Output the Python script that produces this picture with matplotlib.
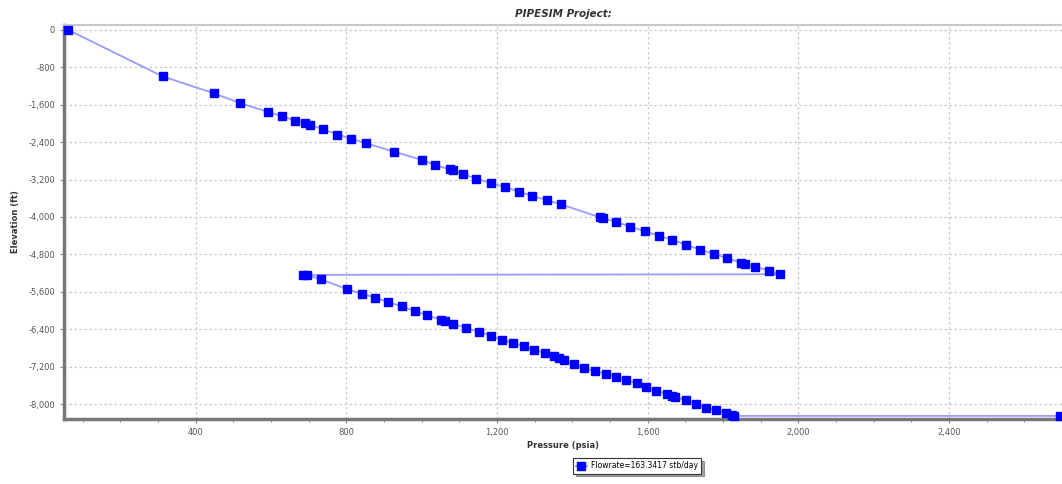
import matplotlib
matplotlib.use('Agg')
import matplotlib.pyplot as plt
from matplotlib.ticker import MultipleLocator, FuncFormatter

# pressure (psia) vs elevation (ft), in drawing order
pressure = [60, 312, 449, 518, 592, 629, 663, 689, 702, 738, 776, 813, 852, 925,
            1001, 1035, 1074, 1083, 1110, 1145, 1183, 1222, 1259, 1294, 1333, 1370,
            1472, 1480, 1517, 1554, 1592, 1629, 1665, 1702, 1738, 1776, 1810, 1848,
            1859, 1884, 1923, 1952,
            684, 694, 732, 802, 840, 877, 910, 947, 981, 1015, 1050, 1061, 1084,
            1118, 1152, 1183, 1212, 1241, 1271, 1298, 1326, 1350, 1364, 1377, 1405,
            1430, 1459, 1488, 1516, 1543, 1572, 1596, 1623, 1651, 1664, 1673, 1702,
            1727, 1755, 1780, 1807, 1824, 1830, 2694]
elevation = [0, -998, -1362, -1569, -1756, -1848, -1940, -1998, -2034, -2126, -2239,
             -2325, -2426, -2603, -2783, -2890, -2982, -3004, -3083, -3182, -3276,
             -3368, -3460, -3554, -3640, -3732, -4004, -4017, -4111, -4209, -4303,
             -4402, -4488, -4595, -4695, -4787, -4881, -4974, -5010, -5059, -5151,
             -5224,
             -5237, -5237, -5331, -5545, -5637, -5723, -5815, -5909, -6008, -6102,
             -6194, -6230, -6280, -6372, -6451, -6537, -6622, -6686, -6766, -6836,
             -6907, -6980, -7014, -7057, -7142, -7221, -7292, -7344, -7414, -7485,
             -7549, -7635, -7708, -7778, -7815, -7843, -7913, -7986, -8072, -8127,
             -8179, -8234, -8249, -8249]
series_label = 'Flowrate=163.3417 stb/day'

fig = plt.figure(figsize=(10.62, 4.84), dpi=100, facecolor='white')
ax = fig.add_axes([64 / 1062, 1 - 419 / 484, 1 - 64 / 1062, (419 - 25) / 484])

ax.plot(pressure, elevation, color='#9a9aff', linewidth=1.3, marker='s',
        markersize=5.2, markerfacecolor='#0000ff', markeredgecolor='#0000ff',
        label=series_label, zorder=3, clip_on=False)

ax.set_xlim(50, 2700)
ax.set_ylim(-8315, 100)
ax.xaxis.set_major_locator(MultipleLocator(400))
ax.xaxis.set_minor_locator(MultipleLocator(100))
ax.yaxis.set_major_locator(MultipleLocator(800))
fmt = FuncFormatter(lambda v, pos: f'{v:,.0f}')
ax.xaxis.set_major_formatter(fmt)
ax.yaxis.set_major_formatter(fmt)
ax.tick_params(axis='both', which='major', labelsize=6, labelcolor='#555555',
               color='#888888', length=3, width=0.8)
ax.tick_params(axis='x', which='minor', color='#888888', length=2, width=0.8)

ax.grid(True, which='major', color='#c8c8c8', linestyle=(0, (2, 2)), linewidth=0.9)
ax.set_axisbelow(True)

for side in ['left', 'bottom']:
    ax.spines[side].set_color('#777777')
    ax.spines[side].set_linewidth(2.5)
ax.spines['top'].set_color('#c8c8c8')
ax.spines['top'].set_linewidth(1.5)
ax.spines['right'].set_visible(False)

ax.set_title('PIPESIM Project:', fontsize=7.5, fontweight='bold', style='italic',
             color='#333333', pad=6)
ax.set_xlabel('Pressure (psia)', fontsize=6, fontweight='bold', color='#333333',
              labelpad=3)
ax.set_ylabel('Elevation (ft)', fontsize=6, fontweight='bold', color='#333333',
              labelpad=6)

leg = ax.legend(loc='center', bbox_to_anchor=(637 / 1062, 1 - 466 / 484),
                bbox_transform=fig.transFigure, fontsize=5.5, fancybox=False,
                shadow=True, edgecolor='#333333', framealpha=1, handlelength=1.4,
                borderpad=0.4, handletextpad=0.6)
leg.get_frame().set_linewidth(0.8)

fig.savefig('out.png', dpi=100, facecolor='white')
